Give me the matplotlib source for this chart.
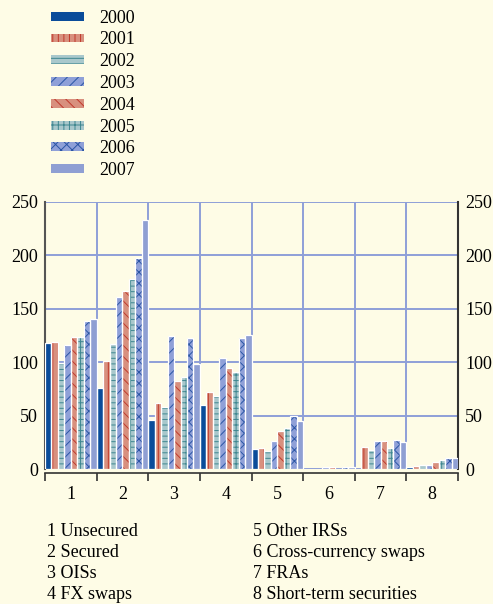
import matplotlib.pyplot as plt
import numpy as np

plt.rcParams['font.family'] = ['Liberation Serif', 'DejaVu Serif']
plt.rcParams['hatch.linewidth'] = 0.7

categories = [1, 2, 3, 4, 5, 6, 7, 8]
category_names = ['1 Unsecured', '2 Secured', '3 OISs', '4 FX swaps',
                  '5 Other IRSs', '6 Cross-currency swaps', '7 FRAs',
                  '8 Short-term securities']
years = ['2000', '2001', '2002', '2003', '2004', '2005', '2006', '2007']

v2000 = [118, 76, 46, 60, 18.5, 0, 0, 2]
v2001 = [119, 101, 62, 72, 19.5, 0, 21, 3]
v2002 = [99.5, 117, 58, 68, 16.5, 0, 17.5, 4]
v2003 = [116, 161, 125, 104, 26.5, 1.5, 26.5, 4]
v2004 = [124, 167, 82, 95, 36, 1.5, 26.5, 7]
v2005 = [124, 178, 86, 91, 38, 0, 20, 8.5]
v2006 = [139, 198, 123, 123, 50, 1.5, 27.5, 10]
v2007 = [140, 233, 98.5, 125.5, 45, 1.5, 25.5, 10]
series = [v2000, v2001, v2002, v2003, v2004, v2005, v2006, v2007]

# face colour, hatch colour, hatch pattern
styles = [
    ('#0a4c9a', '#0a4c9a', ''),
    ('#d8907e', '#c0392b', '|||'),
    ('#a9c8cc', '#3f8790', '---'),
    ('#8fa0d8', '#2a55a5', '///'),
    ('#d8907e', '#c0392b', '\\\\\\'),
    ('#a9c8cc', '#3f8790', '+++'),
    ('#8fa0d8', '#2a55a5', 'xxx'),
    ('#8f9fd3', '#8f9fd3', ''),
]

bg = '#fefce6'
grid_col = '#8e9fd8'

fig = plt.figure(figsize=(4.93, 6.04), dpi=100, facecolor=bg)
ax = fig.add_axes([45 / 493, 1 - 469 / 604, 413 / 493, 267 / 604])
ax.set_facecolor(bg)

x = np.arange(1, 9)
w = 0.125
handles = []
for i, (vals, (fc, hc, hatch)) in enumerate(zip(series, styles)):
    vals = np.array(vals, dtype=float)
    pos = x + (i - 3.5) * w
    keep = vals > 0
    b = ax.bar(pos[keep], vals[keep], w, color=fc, edgecolor=hc, hatch=hatch,
               linewidth=0, zorder=3)
    ax.bar(pos[keep], vals[keep], w, fill=False, edgecolor='white',
           linewidth=0.9, zorder=4)
    handles.append(b)

ax.set_xlim(0.5, 8.5)
ax.set_ylim(0, 250)
ax.set_yticks([0, 50, 100, 150, 200, 250])
ax.set_xticks(np.arange(0.5, 9, 1))
ax.set_xticklabels([])
ax.set_xticks(x, minor=True)
ax.set_xticklabels([str(c) for c in categories], minor=True)
ax.tick_params(axis='x', which='major', direction='out', length=6,
               width=1.2, color='#333333')
ax.tick_params(axis='x', which='minor', length=0, pad=9, labelsize=13)
ax.tick_params(axis='y', which='both', length=0, labelsize=13, pad=5,
               labelleft=True, labelright=True)

ax.grid(True, which='major', color=grid_col, linewidth=1.4, zorder=0)
ax.set_axisbelow(True)

ax.spines['top'].set_visible(False)
ax.spines['left'].set_color('#555555')
ax.spines['left'].set_linewidth(1.5)
ax.spines['right'].set_color('#333333')
ax.spines['right'].set_linewidth(1.5)
ax.spines['bottom'].set_position(('outward', 3))
ax.spines['bottom'].set_color('#333333')
ax.spines['bottom'].set_linewidth(1.2)

fig.legend(handles, years, loc='upper left',
           bbox_to_anchor=(38 / 493, 1 + 3 / 604), frameon=False,
           fontsize=13, handlelength=1.85, handleheight=0.38,
           handletextpad=0.85, labelspacing=0.265, borderpad=0.2)

for i, name in enumerate(category_names):
    col = i // 4
    row = i % 4
    fig.text((47 if col == 0 else 253) / 493, 1 - (531 + row * 21.3) / 604,
             name, fontsize=13, va='center', ha='left')

fig.savefig('out.png', dpi=100, facecolor=bg)
